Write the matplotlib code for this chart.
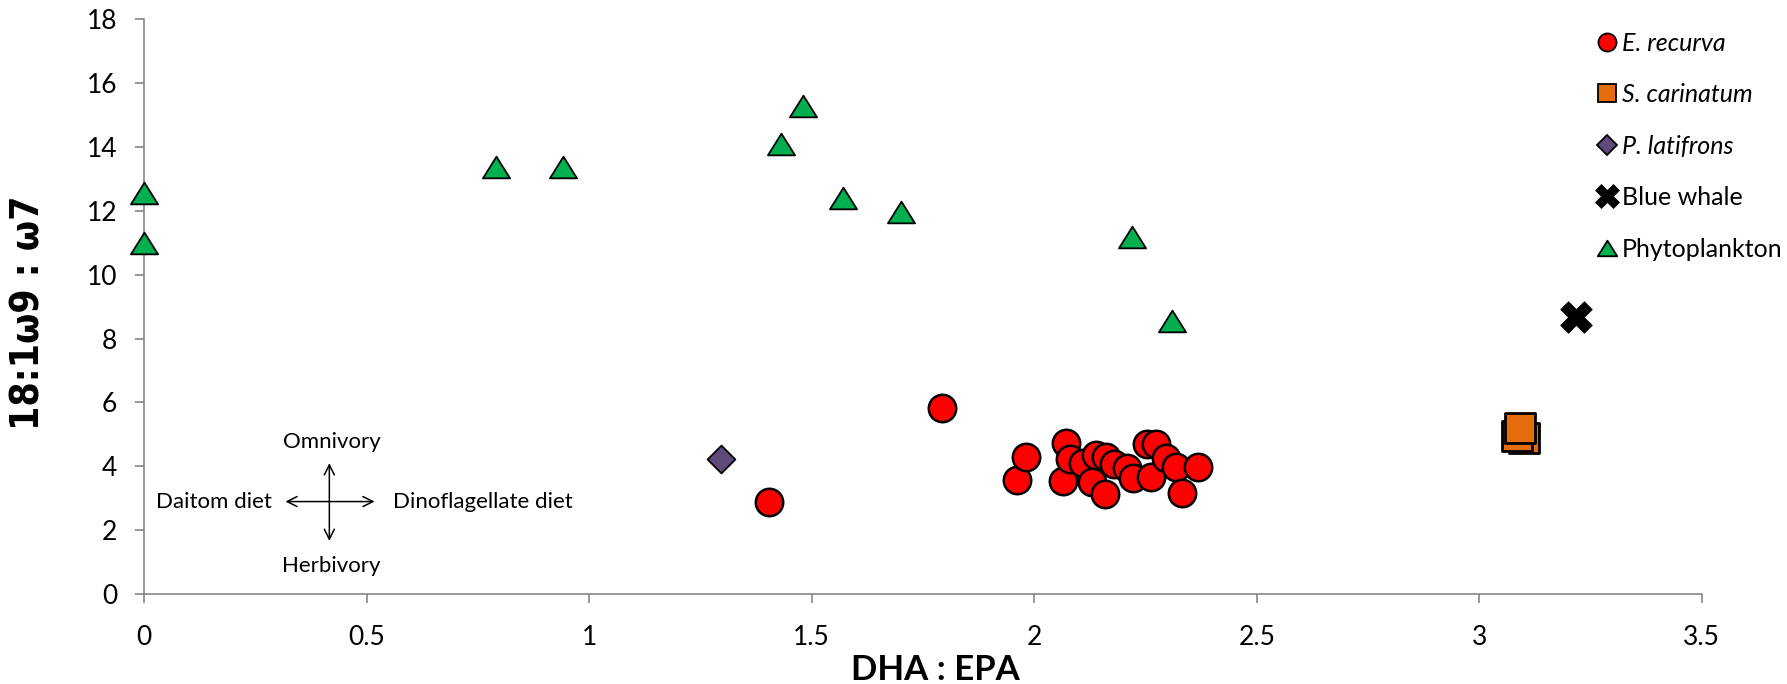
import numpy as np
import matplotlib
matplotlib.use('Agg')
import matplotlib.pyplot as plt
from matplotlib.lines import Line2D
from matplotlib.path import Path

plt.rcParams['font.family'] = ['Lato', 'DejaVu Sans']

# data
recurva_x = [1.405, 1.792, 1.961, 1.982, 2.064, 2.072, 2.081, 2.109, 2.130, 2.139,
             2.158, 2.162, 2.180, 2.208, 2.223, 2.253, 2.262, 2.274, 2.296, 2.318,
             2.332, 2.367]
recurva_y = [2.89, 5.82, 3.57, 4.30, 3.54, 4.74, 4.21, 4.11, 3.51, 4.35,
             3.13, 4.28, 4.07, 3.93, 3.64, 4.69, 3.67, 4.68, 4.25, 3.96,
             3.15, 3.96]
carinatum_x = [3.100, 3.085, 3.091]
carinatum_y = [4.88, 4.95, 5.18]
latifrons_x = [1.297]
latifrons_y = [4.21]
whale_x = [3.218]
whale_y = [8.68]
phyto_x = [0.0, 0.0, 0.79, 0.94, 1.43, 1.48, 1.57, 1.70, 2.22, 2.31]
phyto_y = [12.55, 11.0, 13.39, 13.39, 14.1, 15.3, 12.4, 11.96, 11.18, 8.54]

x_ticks = [0, 0.5, 1, 1.5, 2, 2.5, 3, 3.5]
x_ticklabels = ['0', '0.5', '1', '1.5', '2', '2.5', '3', '3.5']
y_ticks = [0, 2, 4, 6, 8, 10, 12, 14, 16, 18]

red = '#ff0000'
orange = '#e46c0a'
purple = '#604a7b'
green = '#00b050'
axis_grey = '#868686'

# excel style triangle, wider than tall
tri = Path([(0, 0.8), (-1, -0.8), (1, -0.8), (0, 0.8)],
           [Path.MOVETO, Path.LINETO, Path.LINETO, Path.CLOSEPOLY])

fig = plt.figure(figsize=(17.87, 6.84), dpi=100)
ax = fig.add_axes([0.0807, 0.1319, 0.8716, 0.8397])

ax.scatter(phyto_x, phyto_y, s=380, marker=tri, c=green, edgecolors='black',
           linewidths=1.3, zorder=3, clip_on=False)
ax.scatter(latifrons_x, latifrons_y, s=200, marker='D', c=purple, edgecolors='black',
           linewidths=1.3, zorder=3)
ax.scatter(carinatum_x, carinatum_y, s=440, marker='s', c=orange, edgecolors='black',
           linewidths=2, zorder=3)
ax.scatter(recurva_x, recurva_y, s=390, marker='o', c=red, edgecolors='black',
           linewidths=1.8, zorder=3)
ax.scatter(whale_x, whale_y, s=520, marker='X', c='black', edgecolors='black',
           linewidths=0.5, zorder=3)

ax.set_xlim(0, 3.5)
ax.set_ylim(0, 18)
ax.set_xticks(x_ticks)
ax.set_xticklabels(x_ticklabels)
ax.set_yticks(y_ticks)
ax.tick_params(axis='both', direction='out', length=6.5, width=1.2, color=axis_grey,
               labelsize=19)
ax.tick_params(axis='x', pad=16)
ax.tick_params(axis='y', pad=13)
for side in ['top', 'right']:
    ax.spines[side].set_visible(False)
for side in ['left', 'bottom']:
    ax.spines[side].set_color(axis_grey)
    ax.spines[side].set_linewidth(1.2)

ax.set_xlabel('DHA : EPA', fontsize=25, fontweight='bold')
ax.xaxis.set_label_coords(0.508, -0.104)
ax.set_ylabel('18:1ω9 : ω7', fontsize=28, fontweight='bold',
              family='DejaVu Sans', fontstretch='condensed')
ax.yaxis.set_label_coords(-0.0623, 0.49)

# diet annotation
ax.annotate('', xy=(0.416, 4.18), xytext=(0.416, 1.57),
            arrowprops=dict(arrowstyle='<->', lw=1.1, color='black', mutation_scale=18))
ax.annotate('', xy=(0.311, 2.89), xytext=(0.524, 2.89),
            arrowprops=dict(arrowstyle='<->', lw=1.1, color='black', mutation_scale=18))
ax.text(0.421, 4.75, 'Omnivory', ha='center', va='center', fontsize=16)
ax.text(0.421, 0.86, 'Herbivory', ha='center', va='center', fontsize=16)
ax.text(0.286, 2.89, 'Daitom diet', ha='right', va='center', fontsize=16)
ax.text(0.560, 2.89, 'Dinoflagellate diet', ha='left', va='center', fontsize=16)

handles = [
    Line2D([], [], ls='none', marker='o', ms=13, mfc=red, mec='black', mew=1.3),
    Line2D([], [], ls='none', marker='s', ms=13, mfc=orange, mec='black', mew=1.3),
    Line2D([], [], ls='none', marker='D', ms=10, mfc=purple, mec='black', mew=1.3),
    Line2D([], [], ls='none', marker='X', ms=17, mfc='black', mec='black', mew=0.5),
    Line2D([], [], ls='none', marker=tri, ms=14, mfc=green, mec='black', mew=1.3),
]
labels = ['E. recurva', 'S. carinatum', 'P. latifrons', 'Blue whale', 'Phytoplankton']
leg = ax.legend(handles, labels, loc='upper left', bbox_to_anchor=(0.926, 0.996),
                frameon=False, fontsize=18, handlelength=0.8, handletextpad=0.2,
                labelspacing=1.14, borderaxespad=0)
for t in leg.get_texts()[:3]:
    t.set_style('italic')

fig.savefig('out.png', dpi=100)
plt.close(fig)
